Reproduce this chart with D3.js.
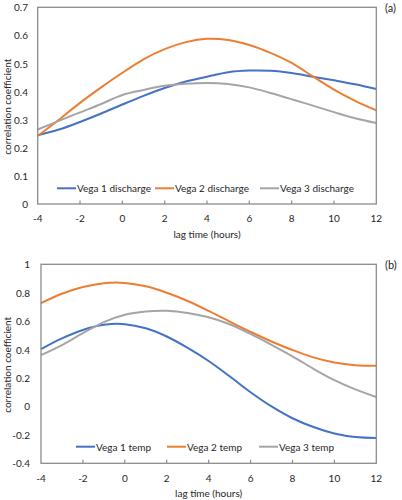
<!DOCTYPE html>
<html><head><meta charset="utf-8">
<script src="https://cdn.jsdelivr.net/npm/d3@7"></script>
<style>
html,body{margin:0;padding:0;background:#fff;}
svg{display:block;}
text{font-family:Lato,"Noto Sans",sans-serif;fill:#262626;}
</style></head>
<body>
<svg id="chart" width="402" height="500"></svg>
<script>
const lagHours = [-4,-3,-2,-1,0,1,2,3,4,5,6,7,8,9,10,11,12];
const xTicks = [-4,-2,0,2,4,6,8,10,12];

// Panel (a): discharge
const vega1Discharge = [0.245,0.265,0.292,0.322,0.354,0.385,0.413,0.436,0.453,0.469,0.475,0.474,0.466,0.453,0.440,0.426,0.409];
const vega2Discharge = [0.242,0.300,0.360,0.415,0.467,0.515,0.551,0.576,0.588,0.584,0.566,0.538,0.502,0.454,0.407,0.367,0.333];
const vega3Discharge = [0.265,0.296,0.326,0.356,0.388,0.406,0.421,0.428,0.431,0.427,0.415,0.395,0.373,0.350,0.327,0.305,0.288];
const yTicksA = [0,0.1,0.2,0.3,0.4,0.5,0.6,0.7];

// Panel (b): temperature
const vega1Temp = [0.404,0.479,0.538,0.574,0.579,0.550,0.492,0.412,0.320,0.212,0.100,0.000,-0.083,-0.145,-0.190,-0.215,-0.222];
const vega2Temp = [0.727,0.793,0.840,0.867,0.869,0.845,0.800,0.742,0.672,0.597,0.525,0.457,0.397,0.345,0.309,0.290,0.286];
const vega3Temp = [0.361,0.432,0.515,0.593,0.645,0.668,0.673,0.658,0.627,0.578,0.510,0.433,0.353,0.265,0.185,0.120,0.066];
const yTicksB = [-0.4,-0.2,0,0.2,0.4,0.6,0.8,1];

const colors = ["#4472C4","#ED7D31","#A5A5A5"];
const FS = 10;

const svg = d3.select("#chart");

function panel(opt){
  const {left,right,top,bottom,yDomain,yTicks,series,names,tag,labelRight,legendY,legendX,tickLabelY,titleY,fmt} = opt;
  const g = svg.append("g");
  const x = d3.scaleLinear().domain([-4,12]).range([left,right]);
  const y = d3.scaleLinear().domain(yDomain).range([bottom,top]);

  const line = d3.line().x((d,i)=>x(lagHours[i])).y(d=>y(d)).curve(d3.curveCatmullRom.alpha(0.5));
  series.forEach((s,i)=>{
    g.append("path").datum(s).attr("d",line).attr("fill","none")
      .attr("stroke",colors[i]).attr("stroke-width",2);
  });

  g.append("rect").attr("x",left).attr("y",top).attr("width",right-left).attr("height",bottom-top)
    .attr("fill","none").attr("stroke","#8c8c8c").attr("stroke-width",1.3);

  g.selectAll(".xt").data(xTicks.slice(1,-1)).enter().append("line")
    .attr("x1",d=>x(d)).attr("x2",d=>x(d)).attr("y1",bottom).attr("y2",bottom-3.5)
    .attr("stroke","#8c8c8c").attr("stroke-width",1.2);

  g.selectAll(".xl").data(xTicks).enter().append("text")
    .attr("x",d=>x(d)).attr("y",tickLabelY).attr("text-anchor","middle").attr("dominant-baseline","central")
    .attr("font-size",FS).text(d=>d);

  g.selectAll(".yl").data(yTicks).enter().append("text")
    .attr("x",labelRight).attr("y",d=>y(d)).attr("text-anchor","end").attr("dominant-baseline","central")
    .attr("font-size",FS).text(fmt);

  g.append("text").attr("x",(left+right)/2).attr("y",titleY).attr("text-anchor","middle")
    .attr("dominant-baseline","central").attr("font-size",FS).text("lag time (hours)");
  g.append("text").attr("transform",`translate(7,${(top+bottom)/2+1}) rotate(-90)`)
    .attr("text-anchor","middle").attr("dominant-baseline","central").attr("font-size",FS)
    .text("correlation coefficient");

  g.append("text").attr("x",385).attr("y",top).attr("dominant-baseline","central")
    .attr("font-size",FS+1).text(tag);

  names.forEach((n,i)=>{
    const lx = legendX[i];
    g.append("line").attr("x1",lx).attr("x2",lx+19).attr("y1",legendY).attr("y2",legendY)
      .attr("stroke",colors[i]).attr("stroke-width",2);
    g.append("text").attr("x",lx+20).attr("y",legendY).attr("dominant-baseline","central")
      .attr("font-size",FS).text(n);
  });
}

panel({left:37.7,right:376.3,top:7.3,bottom:204,yDomain:[0,0.7],yTicks:yTicksA,
  series:[vega1Discharge,vega2Discharge,vega3Discharge],
  names:["Vega 1 discharge","Vega 2 discharge","Vega 3 discharge"],
  tag:"(a)",labelRight:28,legendY:188.3,legendX:[57,155,260],tickLabelY:218.3,titleY:234,
  fmt:d=>d===0?"0":d3.format(".1f")(d)});

panel({left:41,right:376.3,top:264.3,bottom:463.3,yDomain:[-0.4,1],yTicks:yTicksB,
  series:[vega1Temp,vega2Temp,vega3Temp],
  names:["Vega 1 temp","Vega 2 temp","Vega 3 temp"],
  tag:"(b)",labelRight:30,legendY:446.7,legendX:[76,167,259],tickLabelY:477.7,titleY:493,
  fmt:d=>(d===0?"0":d===1?"1":d3.format(".1f")(d).replace("−","-"))});
</script>
</body></html>
